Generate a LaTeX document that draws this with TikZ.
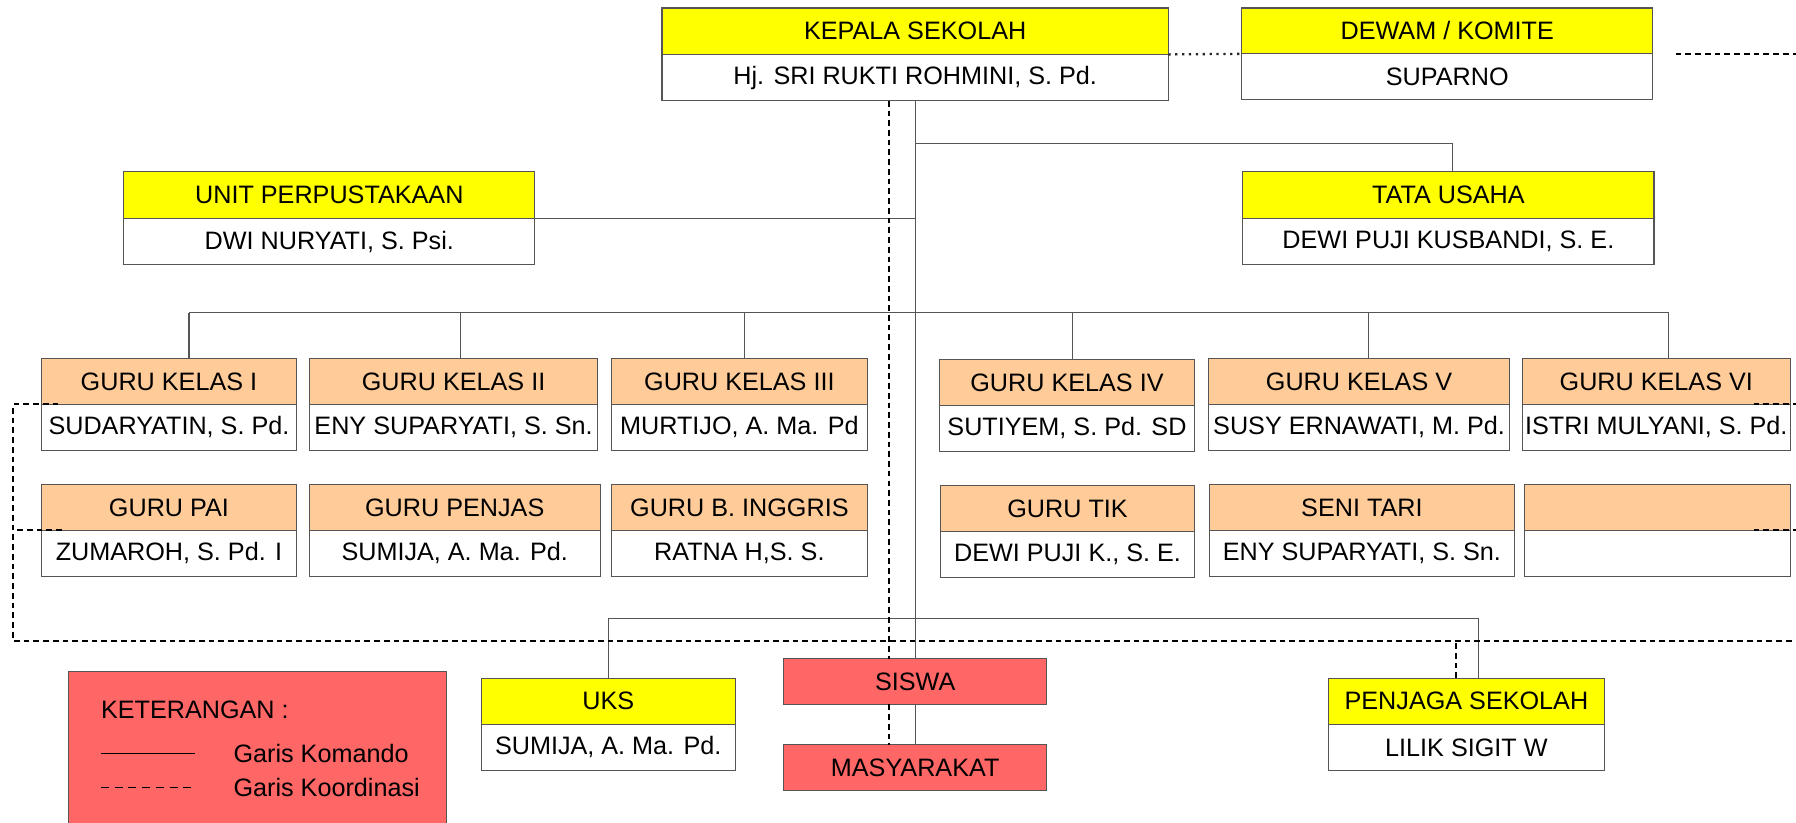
\documentclass[tikz,border=0pt]{standalone}
\usepackage{fontspec}
\setmainfont{Liberation Sans}
\definecolor{ylw}{HTML}{FFFF00}
\definecolor{peach}{HTML}{FFCC99}
\definecolor{redbox}{HTML}{FF6666}
\definecolor{edge}{HTML}{555555}
\tikzset{
  box/.style={draw=edge, line width=1pt, anchor=north west, inner sep=0pt, outer sep=0pt,
    font=\fontsize{22}{25}\selectfont, text=black, align=center},
  cmd/.style={draw=edge, line width=1pt},
  koord/.style={draw=black, line width=1.6pt, dash pattern=on 5pt off 3.5pt},
  legdash/.style={draw=black, line width=1.6pt, dash pattern=on 7pt off 5pt},
  dotline/.style={draw=black!85, line width=2pt, dash pattern=on 2pt off 4pt},
  legtext/.style={anchor=west, inner sep=0pt, font=\fontsize{22}{25}\selectfont, text=black}
}
% name, x, y, width, h1, h2, colour, title, person
\newcommand\orgbox[9]{%
  \node[box, fill=#7, minimum width=#4pt, minimum height=#5pt] (#1) at (#2,#3) {#8};
  \node[box, fill=white, minimum width=#4pt, minimum height=#6pt] (#1n) at (#1.south west) {#9};
}
\begin{document}
\begin{tikzpicture}[x=1pt, y=-1pt]
\useasboundingbox (0,0) rectangle (1568,718);
\fill[white] (0,0) rectangle (1568,718);

% top level
\orgbox{ks}{578}{7}{442}{40.5}{40.5}{ylw}{KEPALA SEKOLAH}{Hj. SRI RUKTI ROHMINI, S. Pd.}
\orgbox{dw}{1084}{7}{359}{40}{40}{ylw}{DEWAM / KOMITE}{SUPARNO}
\orgbox{up}{108}{150}{359}{41}{40}{ylw}{UNIT PERPUSTAKAAN}{DWI NURYATI, S. Psi.}
\orgbox{tu}{1085}{150}{359}{41}{40}{ylw}{TATA USAHA}{DEWI PUJI KUSBANDI, S. E.}

% guru row 1
\orgbox{gka}{36}{313}{223}{40}{40}{peach}{GURU KELAS I}{SUDARYATIN, S. Pd.}
\orgbox{gkb}{270}{313}{252}{40}{40}{peach}{GURU KELAS II}{ENY SUPARYATI, S. Sn.}
\orgbox{gkc}{534}{313}{223}{40}{40}{peach}{GURU KELAS III}{MURTIJO, A. Ma. Pd}
\orgbox{gkd}{820}{314}{223}{40}{40}{peach}{GURU KELAS IV}{SUTIYEM, S. Pd. SD}
\orgbox{gke}{1055}{313}{263}{40}{40}{peach}{GURU KELAS V}{SUSY ERNAWATI, M. Pd.}
\orgbox{gkf}{1329}{313}{234}{40}{40}{peach}{GURU KELAS VI}{ISTRI MULYANI, S. Pd.}

% guru row 2
\orgbox{gpai}{36}{423}{223}{40}{40}{peach}{GURU PAI}{ZUMAROH, S. Pd. I}
\orgbox{gpj}{270}{423}{254}{40}{40}{peach}{GURU PENJAS}{SUMIJA, A. Ma. Pd.}
\orgbox{gbi}{534}{423}{223}{40}{40}{peach}{GURU B. INGGRIS}{RATNA H,S. S.}
\orgbox{gtik}{821}{424}{222}{40}{40}{peach}{GURU TIK}{DEWI PUJI K., S. E.}
\orgbox{gst}{1056}{423}{266}{40}{40}{peach}{SENI TARI}{ENY SUPARYATI, S. Sn.}
\orgbox{gx}{1331}{423}{232}{40}{40}{peach}{}{}

% bottom
\orgbox{uks}{420}{592}{222}{40.5}{40}{ylw}{UKS}{SUMIJA, A. Ma. Pd.}
\orgbox{pj}{1160}{592}{240.5}{40.5}{40}{ylw}{PENJAGA SEKOLAH}{LILIK SIGIT W}
\node[box, fill=redbox, minimum width=230pt, minimum height=40pt] (siswa) at (684,575) {SISWA};
\node[box, fill=redbox, minimum width=230pt, minimum height=40pt] (masy) at (684,650) {MASYARAKAT};

% legend
\node[box, fill=redbox, minimum width=330pt, minimum height=136pt] (leg) at (60,586) {};
\node[legtext] (legt) at (88,620) {KETERANGAN :};
\coordinate (la1) at (88,657.6);
\coordinate (lb1) at (88,687.5);
\node[legtext] (lkom) at (203.7,657.6) {Garis Komando};
\node[legtext] (lkoo) at (203.7,687.5) {Garis Koordinasi};
\draw[draw=black, line width=1pt] (la1) -- ++(82,0);
\draw[legdash] (lb1) -- ++(82,0);

% command lines
\draw[cmd] (ksn.south) -- (siswa.north);
\draw[cmd] (siswa.south) -- (masy.north);
\coordinate (tx) at (799,125);
\draw[cmd] (tx) -| ([xshift=3.5pt]tu.north);
\draw[cmd] (upn.north east) -- (upn.north east -| ksn.south);

\coordinate (gba) at (165,273);
\coordinate (gbb) at (402,273);
\coordinate (gbc) at (650,273);
\coordinate (gbd) at (936,273);
\coordinate (gbe) at (1194.5,273);
\coordinate (gbf) at (1457,273);
\draw[cmd] (gba) -- (gbf);
\foreach \c/\b in {gba/gka, gbb/gkb, gbc/gkc, gbd/gkd, gbe/gke, gbf/gkf}
  \draw[cmd] (\c) -- (\c |- \b.north);

\coordinate (bba) at (531,540);
\coordinate (bbb) at (1291,540);
\draw[cmd] (bba) -- (bbb);
\draw[cmd] (bba) -- (uks.north);
\draw[cmd] (bbb) -- (bbb |- pj.north);

% coordination lines
\draw[koord] ([xshift=-23pt]ksn.south) -- ([xshift=-23pt]siswa.north);
\draw[koord] ([xshift=-23pt]siswa.south) -- ([xshift=-23pt]masy.north);
\coordinate (kla) at (11.6,353);
\coordinate (klb) at (11.6,559.6);
\coordinate (kr) at (1568,559.6);
\draw[koord] ([xshift=15pt]gkan.north west) -- (kla) -- (klb) -- (kr);
\draw[koord] ([xshift=18pt]gpain.north west) -- (gpain.north west -| kla);
\draw[koord] ([xshift=-32pt]gkfn.north east) -- (gkfn.north east -| kr);
\draw[koord] ([xshift=-32pt]gxn.north east) -- (gxn.north east -| kr);
\draw[koord] ([xshift=-9pt]pj.north) -- ([xshift=-9pt]pj.north |- kr);
\draw[dotline] (ks.south east) -- (dw.south west);
\draw[koord] ([xshift=20pt]dw.south east) -- ([xshift=125pt]dw.south east);
\end{tikzpicture}
\end{document}
